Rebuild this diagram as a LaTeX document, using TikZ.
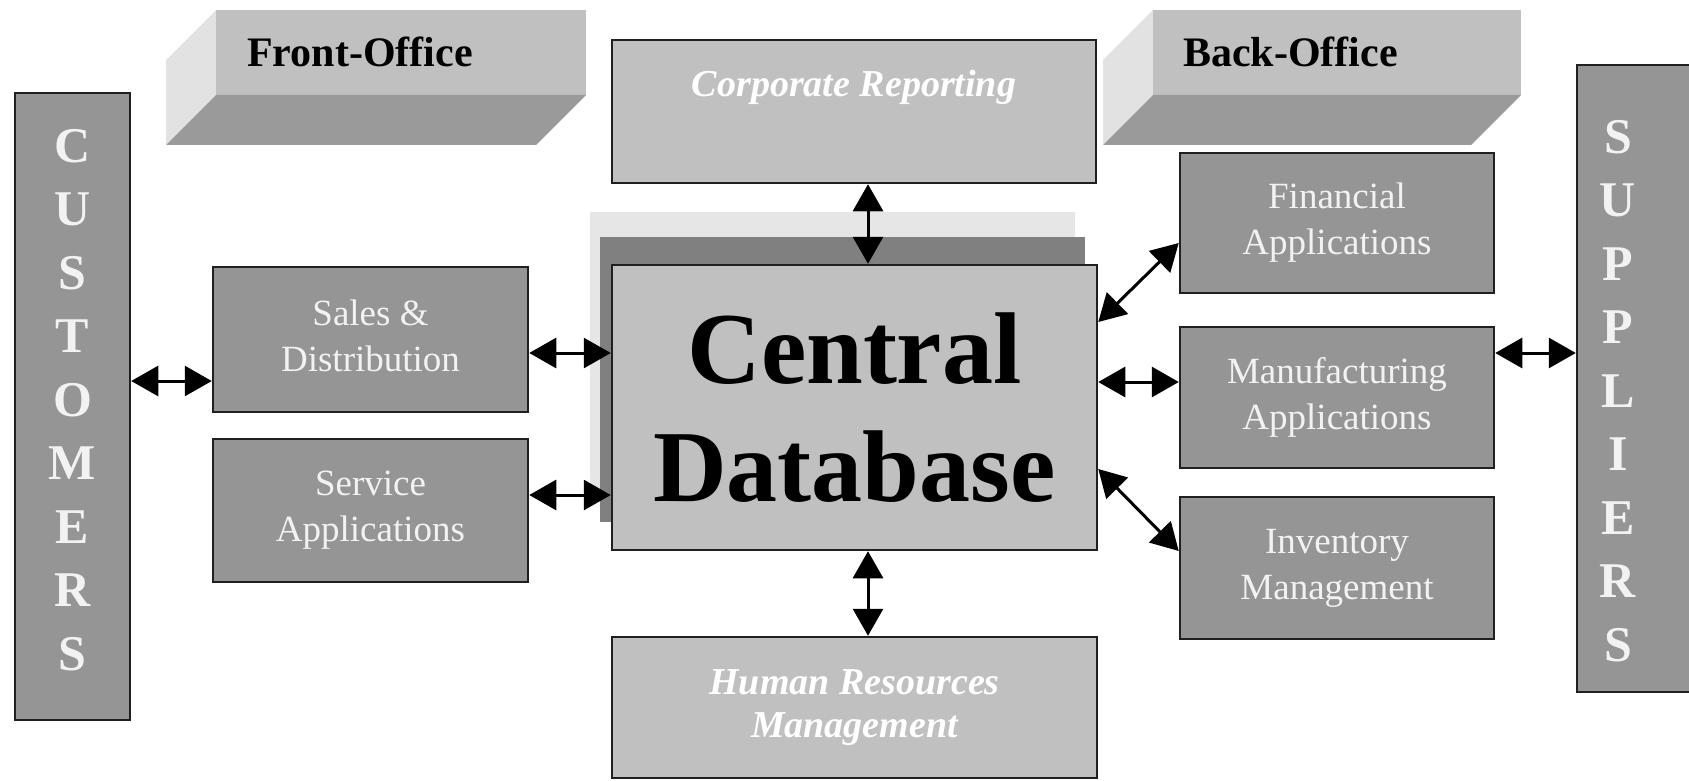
\documentclass[tikz,border=0pt]{standalone}
\usepackage{fontspec}
\setmainfont{Liberation Serif}
\usetikzlibrary{arrows.meta}
\definecolor{boxdark}{HTML}{959595}
\definecolor{boxlight}{HTML}{C0C0C0}
\definecolor{facelight}{HTML}{E2E2E2}
\definecolor{facedark}{HTML}{9A9A9A}
\definecolor{shdark}{HTML}{808080}
\definecolor{shlight}{HTML}{E6E6E6}
\definecolor{txtwhite}{HTML}{F2F2F2}
\definecolor{edge}{HTML}{202020}
\begin{document}
\begin{tikzpicture}[x=1pt,y=-1pt,
  darkbox/.style={draw=edge, line width=2.5pt, fill=boxdark, text=txtwhite, align=center, inner sep=0pt,
    font=\fontsize{37}{46}\selectfont},
  lightbox/.style={draw=edge, line width=2.5pt, fill=boxlight, inner sep=0pt, align=center},
  sidebox/.style={draw=edge, line width=2.5pt, fill=boxdark, inner sep=0pt},
  sideletters/.style={text=txtwhite, align=center, inner sep=0pt, font=\bfseries\fontsize{50}{63.5}\selectfont},
  itwhite/.style={text=white, font=\bfseries\itshape\fontsize{38}{43}\selectfont},
  officelbl/.style={anchor=base west, inner sep=0pt, font=\bfseries\fontsize{42}{48}\selectfont},
  dbl/.style={line width=3pt, {Triangle[length=27pt,width=30pt]}-{Triangle[length=27pt,width=30pt]}},
]
\useasboundingbox (0,0) rectangle (1689,781);
\clip (0,0) rectangle (1689,781);

% Front-Office block
\fill[facelight] (216,10) -- (166,60) -- (166,145) -- (216,95) -- cycle;
\fill[boxlight] (216,10) rectangle (586,95);
\fill[facedark] (216,95) -- (586,95) -- (536,145) -- (166,145) -- cycle;
\node[officelbl] (front) at (247,67) {Front-Office};

% Back-Office block
\fill[facelight] (1153,10) -- (1103,60) -- (1103,145) -- (1153,95) -- cycle;
\fill[boxlight] (1153,10) rectangle (1521,95);
\fill[facedark] (1153,95) -- (1521,95) -- (1471,145) -- (1103,145) -- cycle;
\node[officelbl] (back) at (1183,67) {Back-Office};

% Central database shadows
\fill[shlight] (590,212) rectangle (1075,497);
\fill[shdark] (600,237) rectangle (1085,522);

% Side boxes
\node[sidebox, minimum width=115, minimum height=627] (cust) at (72.5,406.5) {};
\node[sidebox, minimum width=140, minimum height=627] (supp) at (1647,378.5) {};
\node[sideletters] (custtxt) at (72.5,400) {C\\U\\S\\T\\O\\M\\E\\R\\S};
\node[sideletters] (supptxt) at (1618,391) {S\\U\\P\\P\\L\\I\\E\\R\\S};

% Central boxes
\node[lightbox, minimum width=484, minimum height=143] (corp) at (854,111.5) {};
\node[itwhite, anchor=base, inner sep=0pt] (corptxt) at (854,97) {Corporate Reporting};
\node[lightbox, minimum width=485, minimum height=285,
      font=\bfseries\fontsize{102}{118}\selectfont] (db) at (854.5,407.5) {Central\\Database};
\node[lightbox, minimum width=485, minimum height=141, itwhite] (hr) at (854.5,707.5) {Human Resources\\Management};

% Front-office applications
\node[darkbox, minimum width=315, minimum height=145] (sales) at (370.5,339.5) {Sales \&\\Distribution\vphantom{p}};
\node[darkbox, minimum width=315, minimum height=143] (serv) at (370.5,510.5) {Service\\Applications};

% Back-office applications
\node[darkbox, minimum width=314, minimum height=140] (fin) at (1337,223) {Financial\\Applications};
\node[darkbox, minimum width=314, minimum height=141] (manu) at (1337,397.5) {Manufacturing\\Applications};
\node[darkbox, minimum width=314, minimum height=142] (inv) at (1337,568) {Inventory\\Management};

% connector reference levels
\coordinate (yA) at (0,381);
\coordinate (yB) at (0,353);
\coordinate (yC) at (0,495);
\coordinate (yD) at (0,322);
\coordinate (yE) at (0,243);
\coordinate (yF) at (0,382);
\coordinate (yG) at (0,469);
\coordinate (yH) at (0,551);
\coordinate (xV) at (868,0);

\draw[dbl] (cust.east |- yA) -- (sales.west |- yA);
\draw[dbl] (sales.east |- yB) -- (db.west |- yB);
\draw[dbl] (serv.east |- yC) -- (db.west |- yC);
\draw[dbl] (corp.south -| xV) -- (db.north -| xV);
\draw[dbl] (db.south -| xV) -- (hr.north -| xV);
\draw[dbl] (db.east |- yD) -- (fin.west |- yE);
\draw[dbl] (db.east |- yF) -- (manu.west |- yF);
\draw[dbl] (db.east |- yG) -- (inv.west |- yH);
\draw[dbl] (manu.east |- yB) -- (supp.west |- yB);
\end{tikzpicture}
\end{document}
